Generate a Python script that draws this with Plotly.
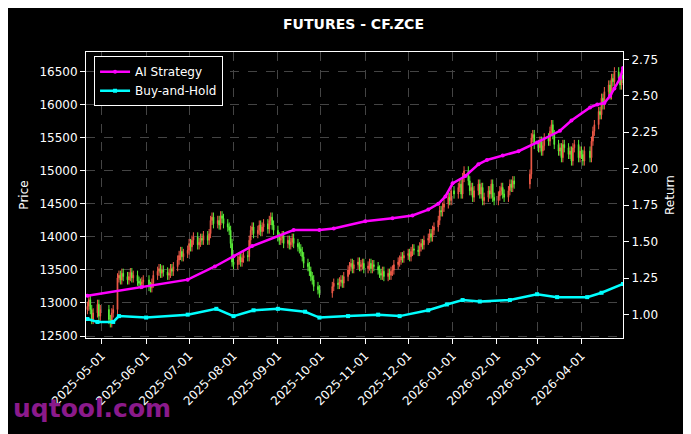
import plotly.graph_objects as go

months = [
 ("2025-04", [21,22,23,24,25,28,29,30], [12950,13050,12900,12750,12850,12980,12800,12900]),
 ("2025-05", [6,7,8,9,12,13,14,15,16,19,20,21,22,23,26,27,28,29,30],
  [12750,12700,12850,12900,13380,13420,13350,13450,13400,13350,13400,13460,13380,13420,13330,13300,13280,13320,13350]),
 ("2025-06", [3,4,5,6,9,10,11,12,13,16,17,18,19,20,23,24,25,26,27,30],
  [13250,13230,13300,13420,13480,13520,13450,13500,13470,13420,13450,13520,13480,13550,13650,13720,13780,13700,13750,13800]),
 ("2025-07", [1,2,3,4,7,8,9,10,11,14,15,16,17,18,21,22,23,24,25,28,29,30,31],
  [13900,13850,13950,14000,13880,13920,13980,13950,14020,13950,14050,14250,14300,14200,14250,14180,14320,14280,14200,14150,14100,13900,13620]),
 ("2025-08", [1,4,5,6,7,8,11,12,13,14,15,18,19,20,21,22,25,26,27,28,29],
  [13580,13650,13700,13620,13680,13720,13700,13950,14100,14150,14050,14100,14180,14080,14150,14200,14120,14250,14300,14180,14100]),
 ("2025-09", [1,2,3,4,5,8,9,10,11,12,15,16,17,18,19,22,23,24,25,26,29,30],
  [14000,13950,13980,14020,13900,13950,13880,13920,13980,13900,13850,13820,13780,13700,13600,13550,13480,13400,13350,13250,13200,13150]),
 ("2025-10", [9,10,13,14,15,16,17,20,21,22,23,24,27,28,29,30,31],
  [13250,13300,13280,13320,13350,13300,13400,13500,13550,13600,13520,13580,13620,13550,13580,13600,13520]),
 ("2025-11", [3,4,5,6,7,10,11,12,13,14,17,18,19,20,21,24,25,26,27,28],
  [13560,13600,13520,13580,13550,13500,13450,13420,13480,13400,13450,13420,13480,13500,13580,13620,13650,13700,13680,13720]),
 ("2025-12", [1,2,3,4,5,8,9,10,11,12,15,16,17,18,19,22,23,24,25,26,29,30,31],
  [13750,13700,13780,13820,13800,13780,13850,13900,13880,13950,13980,14050,14000,14100,14150,14250,14400,14380,14450,14500,14600,14550,14700]),
 ("2026-01", [2,5,6,7,8,9,12,13,14,15,16,19,20,21,22,23,26,27,28,29,30],
  [14650,14750,14800,14650,14900,15000,14850,14700,14750,14600,14700,14800,14650,14750,14550,14600,14700,14650,14800,14600,14550]),
 ("2026-02", [2,3,4,5,6,9,10,11,12,13,24,25,26,27],
  [14620,14700,14750,14650,14600,14700,14800,14750,14850,14800,14950,15500,15550,15400]),
 ("2026-03", [2,3,4,5,6,9,10,11,12,13,16,17,18,19,20,23,24,25,26,27,30,31],
  [15350,15450,15300,15380,15500,15450,15600,15700,15550,15400,15300,15350,15200,15400,15350,15250,15300,15150,15350,15400,15200,15300]),
 ("2026-04", [1,2,3,7,8,9,10,13,14,15,16,17,20,21,22,23,24,27,28,29,30],
  [15250,15150,15300,15200,15450,15600,15700,15900,15850,16100,16000,16200,16300,16150,16400,16350,16500,16400,16300,16450,16400]),
]

dates, close = [], []
for m, days, vals in months:
    assert len(days) == len(vals), m
    dates += [f"{m}-{d:02d}" for d in days]
    close += vals

opens = [12900] + close[:-1]
wick = 70
highs = [max(o, c) + wick for o, c in zip(opens, close)]
lows = [min(o, c) - wick for o, c in zip(opens, close)]

ai_dates = ["2025-04-21","2025-05-29","2025-06-30","2025-07-19","2025-08-01","2025-08-14","2025-09-12","2025-09-30",
            "2025-10-10","2025-11-01","2025-11-20","2025-12-04","2025-12-15","2025-12-22","2025-12-27","2026-01-01",
            "2026-01-10","2026-01-19","2026-01-25","2026-02-05","2026-02-16","2026-03-01","2026-03-17","2026-03-25",
            "2026-04-07","2026-04-12","2026-04-17","2026-04-21","2026-04-24","2026-04-28","2026-04-30"]
ai_ret = [1.13,1.19,1.24,1.33,1.40,1.47,1.58,1.58,1.59,1.64,1.66,1.68,1.72,1.76,1.81,1.90,
          1.95,2.03,2.06,2.09,2.12,2.18,2.26,2.33,2.42,2.44,2.45,2.50,2.55,2.62,2.69]
bh_dates = ["2025-04-21","2025-04-28","2025-05-09","2025-05-13","2025-06-01","2025-06-30","2025-07-20","2025-08-01",
            "2025-08-15","2025-09-01","2025-09-20","2025-09-30","2025-10-20","2025-11-10","2025-11-25","2025-12-15",
            "2025-12-28","2026-01-08","2026-01-20","2026-02-10","2026-03-01","2026-03-15","2026-04-05","2026-04-15","2026-04-30"]
bh_ret = [0.97,0.95,0.95,0.99,0.98,1.00,1.04,0.99,1.03,1.04,1.02,0.98,0.99,1.00,0.99,1.03,
          1.07,1.10,1.09,1.10,1.14,1.12,1.12,1.15,1.21]

fig = go.Figure()
fig.add_trace(go.Candlestick(x=dates, open=opens, high=highs, low=lows, close=close,
    increasing=dict(line=dict(color="#f05a48", width=1), fillcolor="#f05a48"),
    decreasing=dict(line=dict(color="#5cf03a", width=1), fillcolor="#5cf03a"),
    whiskerwidth=0, showlegend=False, yaxis="y"))
fig.add_trace(go.Scatter(x=ai_dates, y=ai_ret, name="AI Strategy", mode="lines+markers", yaxis="y2",
    line=dict(color="#ff00ff", width=2.5), marker=dict(size=4, color="#ff00ff")))
fig.add_trace(go.Scatter(x=bh_dates, y=bh_ret, name="Buy-and-Hold", mode="lines+markers", yaxis="y2",
    line=dict(color="#00ffff", width=2.5), marker=dict(size=4, color="#00ffff", symbol="square")))

grid = dict(showgrid=True, gridcolor="#444444", griddash="dash", gridwidth=0.6)
fig.update_layout(
    width=691, height=434, paper_bgcolor="black", plot_bgcolor="black",
    font=dict(family="DejaVu Sans", color="white", size=12),
    margin=dict(l=78, r=76, t=44, b=104),
    title=dict(text="<b>FUTURES - CF.ZCE</b>", x=0.5, xanchor="center", y=0.975, font=dict(size=14)),
    xaxis=dict(range=["2025-04-20", "2026-04-30"], rangeslider=dict(visible=False), type="date",
               tick0="2025-05-01", dtick="M1", tickformat="%Y-%m-%d", tickangle=-45, automargin=False,
               showline=True, linecolor="white", mirror=True, ticks="outside", tickcolor="white", **grid),
    yaxis=dict(title=dict(text="Price", font=dict(size=12), standoff=8), range=[12470, 16800], dtick=500,
               tickformat="d", automargin=False,
               showline=True, linecolor="white", mirror=True, ticks="outside", tickcolor="white", **grid),
    yaxis2=dict(title=dict(text="Return", font=dict(size=12), standoff=8), overlaying="y", side="right",
                range=[0.84, 2.80], dtick=0.25, tick0=0, tickformat=".2f", showgrid=False, automargin=False,
                ticks="outside", tickcolor="white"),
    legend=dict(x=0.015, y=0.985, xanchor="left", yanchor="top", bgcolor="black",
                bordercolor="white", borderwidth=1, font=dict(size=12)),
    annotations=[dict(text="<b>uqtool.com</b>", xref="paper", yref="paper", x=-0.14, y=-0.245,
                      xanchor="left", yanchor="middle", showarrow=False,
                      font=dict(size=25, color="#8b1a8b"))],
)
fig.write_html("out.html")
